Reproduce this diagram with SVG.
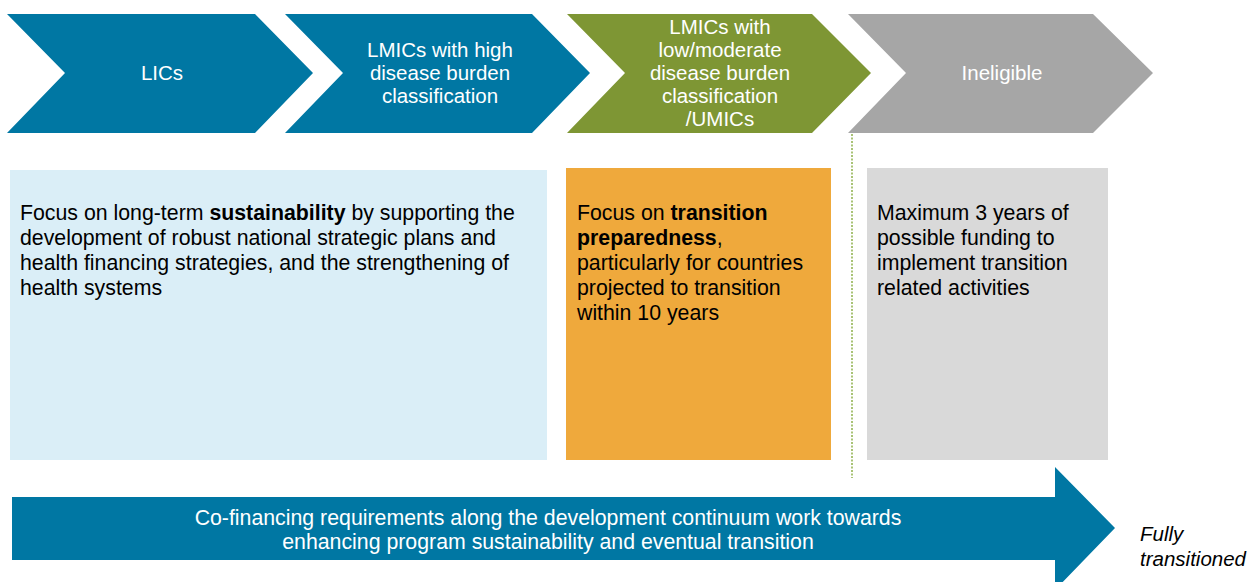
<svg xmlns="http://www.w3.org/2000/svg" width="1251" height="582" viewBox="0 0 1251 582">
<style>
.hd{font-family:"Liberation Sans",Arial,sans-serif;font-size:20.5px;fill:#ffffff;text-anchor:middle}
.bd{font-family:"Liberation Sans",Arial,sans-serif;font-size:21.3px;fill:#000000}
.b{font-weight:bold}
.ft{font-family:"Liberation Sans",Arial,sans-serif;font-size:21.3px;fill:#ffffff;text-anchor:middle}
.it{font-family:"Liberation Sans",Arial,sans-serif;font-size:20.5px;font-style:italic;fill:#000000}
</style>
<rect width="1251" height="582" fill="#ffffff"/>
<g id="chev-lics">
<polygon points="7,14 255,14 313,73 255,133 7,133 65,73" fill="#0077A3"/>
<text class="hd" x="162" y="80">LICs</text>
</g>
<g id="chev-lmics-high">
<polygon points="285,14 532,14 590,73 532,133 285,133 343,73" fill="#0077A3"/>
<text class="hd" x="440" y="57">LMICs with high</text>
<text class="hd" x="440" y="80">disease burden</text>
<text class="hd" x="440" y="103">classification</text>
</g>
<g id="chev-lmics-low">
<polygon points="567,14 812,14 871,73 812,133 567,133 625,73" fill="#7E9634"/>
<text class="hd" x="720" y="34">LMICs with</text>
<text class="hd" x="720" y="57">low/moderate</text>
<text class="hd" x="720" y="80">disease burden</text>
<text class="hd" x="720" y="103">classification</text>
<text class="hd" x="720" y="126">/UMICs</text>
</g>
<g id="chev-ineligible">
<polygon points="848,14 1093,14 1153,73 1093,133 848,133 906,73" fill="#A6A6A6"/>
<text class="hd" x="1002" y="80">Ineligible</text>
</g>
<g id="box-sustain">
<rect x="10" y="170" width="537" height="290" fill="#DAEEF7"/>
<text class="bd" x="20" y="220">Focus on long-term <tspan class="b">sustainability</tspan> by supporting the</text>
<text class="bd" x="20" y="245">development of robust national strategic plans and</text>
<text class="bd" x="20" y="270">health financing strategies, and the strengthening of</text>
<text class="bd" x="20" y="295">health systems</text>
</g>
<g id="box-prep">
<rect x="566" y="168" width="265" height="292" fill="#EFA93C"/>
<text class="bd" x="577" y="220">Focus on <tspan class="b">transition</tspan></text>
<text class="bd" x="577" y="245"><tspan class="b">preparedness</tspan>,</text>
<text class="bd" x="577" y="270">particularly for countries</text>
<text class="bd" x="577" y="295">projected to transition</text>
<text class="bd" x="577" y="320">within 10 years</text>
</g>
<g id="box-max">
<rect x="867" y="168" width="241" height="292" fill="#D9D9D9"/>
<text class="bd" x="877" y="220">Maximum 3 years of</text>
<text class="bd" x="877" y="245">possible funding to</text>
<text class="bd" x="877" y="270">implement transition</text>
<text class="bd" x="877" y="295">related activities</text>
</g>
<g id="connectors">
<line x1="852" y1="134" x2="852" y2="478" stroke="#8DB04A" stroke-width="1.5" stroke-dasharray="2,1.5"/>
</g>
<g id="cofinancing-arrow">
<polygon points="12,497 1055,497 1055,467 1115,528 1055,590 1055,560 12,560" fill="#0077A3"/>
<text class="ft" x="548" y="525">Co-financing requirements along the development continuum work towards</text>
<text class="ft" x="548" y="549">enhancing program sustainability and eventual transition</text>
</g>
<g id="fully">
<text class="it" x="1140" y="541">Fully</text>
<text class="it" x="1140" y="566">transitioned</text>
</g>
</svg>
